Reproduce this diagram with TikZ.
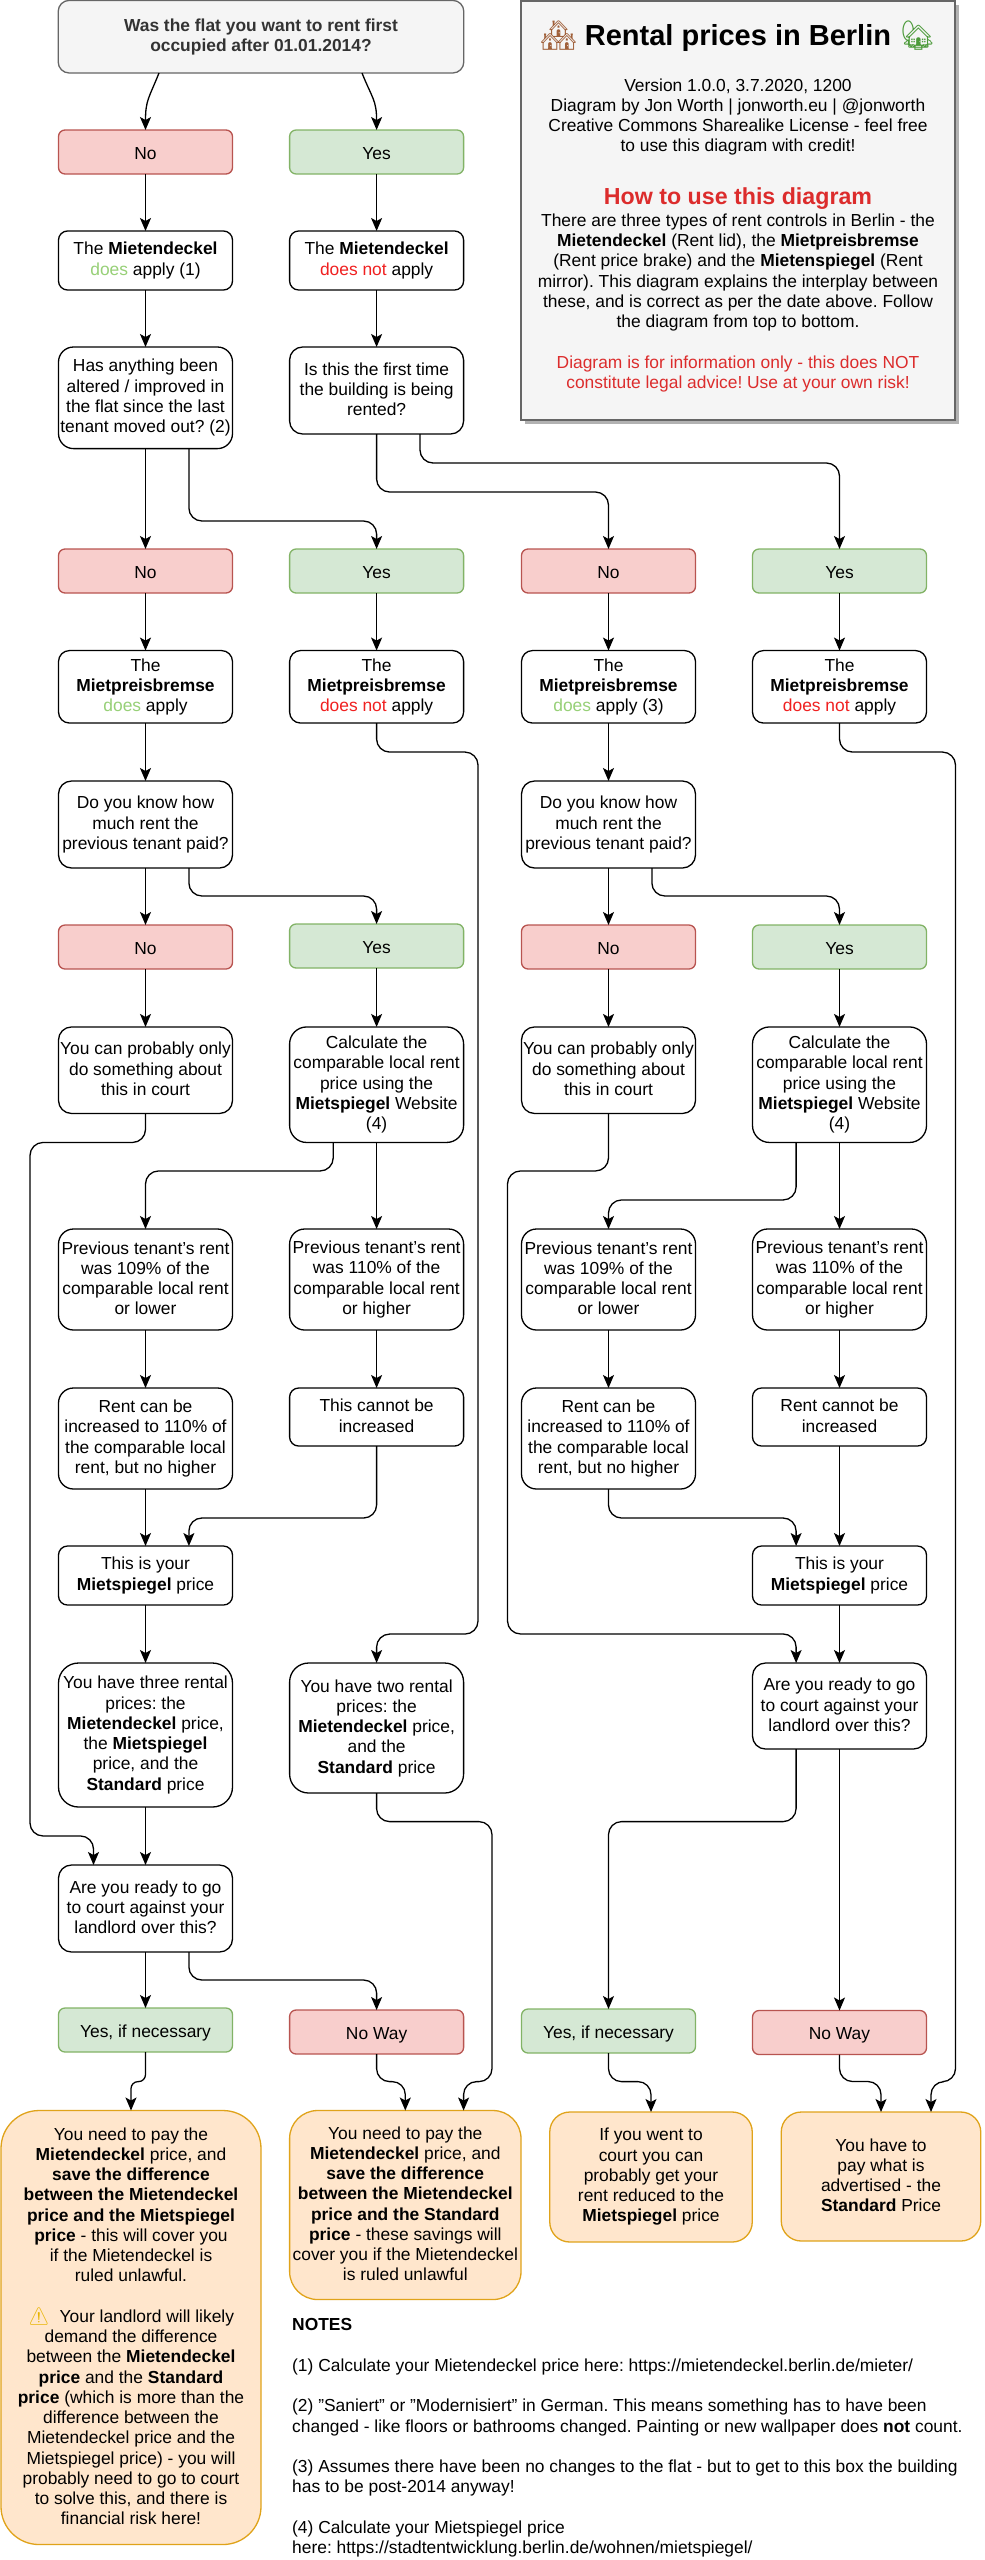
\documentclass[tikz,border=0pt]{standalone}
\usepackage{fontspec}
\setmainfont{Liberation Sans}
\newfontfamily\emojifont{Noto Emoji}
\usepackage{tikz}
\usetikzlibrary{arrows.meta,shadows}
\definecolor{nofill}{HTML}{F8CECC}
\definecolor{noline}{HTML}{B85450}
\definecolor{yesfill}{HTML}{D5E8D4}
\definecolor{yesline}{HTML}{82B366}
\definecolor{payfill}{HTML}{FFE6CC}
\definecolor{payline}{HTML}{E0A31A}
\definecolor{greyfill}{HTML}{F5F5F5}
\definecolor{greyline}{HTML}{666666}
\definecolor{greytext}{HTML}{333333}
\definecolor{doesgreen}{HTML}{97D077}
\definecolor{doesred}{HTML}{F02020}
\definecolor{infored}{HTML}{DC2C2C}
\definecolor{warnyellow}{HTML}{E8B400}
\definecolor{housebrown}{HTML}{A0603A}
\definecolor{treegreen}{HTML}{4C9A3A}
\newcommand{\doesyes}{\textcolor{doesgreen}{does}}
\newcommand{\doesno}{\textcolor{doesred}{does not}}
\newcommand{\boxstrut}{\rule[-2.6pt]{0pt}{20.25pt}}
\AtBeginDocument{\frenchspacing}
\tikzset{
  flowbox/.style={draw=black,fill=white,line width=1.3pt,rounded corners=#1,
    minimum width=174pt,inner sep=0pt,outer sep=0pt,align=center,
    execute at begin node=\boxstrut,execute at end node=\boxstrut},
  flowbox/.default=9pt,
  nobox/.style={flowbox=6.5pt,draw=noline,fill=nofill,minimum height=44pt},
  yesbox/.style={flowbox=6.5pt,draw=yesline,fill=yesfill,minimum height=44pt},
  paybox/.style={flowbox=#1,draw=payline,fill=payfill},
  link/.style={line width=1.3pt,rounded corners=13pt,->},
  every node/.style={font=\fontsize{17.4}{20.25}\selectfont}
}
\begin{document}
\begin{tikzpicture}[x=1pt,y=-1pt,>={Stealth[length=13pt,width=11pt,inset=3pt]}]
\useasboundingbox (0,0) rectangle (985,2560);
\node[flowbox=11pt,draw=greyline,fill=greyfill,text=greytext,minimum width=405.6pt,minimum height=72.6pt,font=\fontsize{17.4}{20.25}\selectfont\bfseries] (top) at (261,36.7) {Was the flat you want to rent first\\occupied after 01.01.2014?};
\node[draw=greyline,fill=greyfill,line width=1.45pt,minimum width=434pt,minimum height=419pt,inner sep=0pt,
  drop shadow={shadow xshift=3.5pt,shadow yshift=-3.5pt,fill=black!30,opacity=1}] (info) at (738,210.5) {};
\node[font=\fontsize{29}{33}\selectfont\bfseries] (infotitle) at (738,36) {{\emojifont\textcolor{housebrown}{🏘}} Rental prices in Berlin {\emojifont\textcolor{treegreen}{🏡}}};
\node[align=center] (infoversion) at (738,117) {Version 1.0.0, 3.7.2020, 1200\\Diagram by Jon Worth | jonworth.eu | @jonworth\\Creative Commons Sharealike License - feel free\\to use this diagram with credit!};
\node[text=infored,font=\fontsize{23.2}{27}\selectfont\bfseries] (infohow) at (738,199) {How to use this diagram};
\node[align=center] (infotext) at (738,272.5) {There are three types of rent controls in Berlin - the\\\textbf{Mietendeckel} (Rent lid), the \textbf{Mietpreisbremse}\\(Rent price brake) and the \textbf{Mietenspiegel} (Rent\\mirror). This diagram explains the interplay between\\these, and is correct as per the date above. Follow\\the diagram from top to bottom.};
\node[align=center,text=infored] (infowarn) at (738,374) {Diagram is for information only - this does NOT\\constitute legal advice! Use at your own risk!};

\node[nobox] (no1) at (145.5,152) {No};
\node[yesbox] (yes1) at (376.6,152) {Yes};
\node[flowbox,minimum height=59pt] (deckel1) at (145.5,260.5) {The \textbf{Mietendeckel}\\\doesyes{} apply (1)};
\node[flowbox,minimum height=59pt] (deckel2) at (376.6,260.5) {The \textbf{Mietendeckel}\\\doesno{} apply};
\node[flowbox=15pt,minimum height=101.6pt] (altered) at (145.5,397.8) {Has anything been\\altered / improved in\\the flat since the last\\tenant moved out? (2)};
\node[flowbox=13pt,minimum height=87pt] (firsttime) at (376.6,390.5) {Is this the first time\\the building is being\\rented?};

\node[nobox] (no2) at (145.5,571) {No};
\node[yesbox] (yes2) at (376.6,571) {Yes};
\node[nobox] (no3) at (608.5,571) {No};
\node[yesbox] (yes3) at (839.5,571) {Yes};
\node[flowbox=11pt,minimum height=72.5pt] (bremse1) at (145.5,686.8) {The\\\textbf{Mietpreisbremse}\\\doesyes{} apply};
\node[flowbox=11pt,minimum height=72.5pt] (bremse2) at (376.6,686.8) {The\\\textbf{Mietpreisbremse}\\\doesno{} apply};
\node[flowbox=11pt,minimum height=72.5pt] (bremse3) at (608.5,686.8) {The\\\textbf{Mietpreisbremse}\\\doesyes{} apply (3)};
\node[flowbox=11pt,minimum height=72.5pt] (bremse4) at (839.5,686.8) {The\\\textbf{Mietpreisbremse}\\\doesno{} apply};
\node[flowbox=13pt,minimum height=87pt] (know1) at (145.5,824.5) {Do you know how\\much rent the\\previous tenant paid?};
\node[flowbox=13pt,minimum height=87pt] (know3) at (608.5,824.5) {Do you know how\\much rent the\\previous tenant paid?};

\node[nobox] (no4) at (145.5,947) {No};
\node[yesbox] (yes4) at (376.6,946) {Yes};
\node[nobox] (no5) at (608.5,947) {No};
\node[yesbox] (yes5) at (839.5,947) {Yes};
\node[flowbox=13pt,minimum height=86.5pt] (court1) at (145.5,1070.2) {You can probably only\\do something about\\this in court};
\node[flowbox=13pt,minimum height=86.5pt] (court3) at (608.5,1070.2) {You can probably only\\do something about\\this in court};
\node[flowbox=17pt,minimum height=115.5pt] (calc2) at (376.6,1084.7) {Calculate the\\comparable local rent\\price using the\\\textbf{Mietspiegel} Website\\(4)};
\node[flowbox=17pt,minimum height=115.5pt] (calc4) at (839.5,1084.7) {Calculate the\\comparable local rent\\price using the\\\textbf{Mietspiegel} Website\\(4)};

\node[flowbox=15pt,minimum height=101pt] (low1) at (145.5,1279.5) {Previous tenant's rent\\was 109\% of the\\comparable local rent\\or lower};
\node[flowbox=15pt,minimum height=101pt] (high2) at (376.6,1279.5) {Previous tenant's rent\\was 110\% of the\\comparable local rent\\or higher};
\node[flowbox=15pt,minimum height=101pt] (low3) at (608.5,1279.5) {Previous tenant's rent\\was 109\% of the\\comparable local rent\\or lower};
\node[flowbox=15pt,minimum height=101pt] (high4) at (839.5,1279.5) {Previous tenant's rent\\was 110\% of the\\comparable local rent\\or higher};
\node[flowbox=15pt,minimum height=101pt] (rise1) at (145.5,1438.5) {Rent can be\\increased to 110\% of\\the comparable local\\rent, but no higher};
\node[flowbox,minimum height=58pt] (cannot2) at (376.6,1417) {This cannot be\\increased};
\node[flowbox=15pt,minimum height=101pt] (rise3) at (608.5,1438.5) {Rent can be\\increased to 110\% of\\the comparable local\\rent, but no higher};
\node[flowbox,minimum height=58pt] (cannot4) at (839.5,1417) {Rent cannot be\\increased};
\node[flowbox,minimum height=59pt] (mirror1) at (145.5,1575.5) {This is your\\\textbf{Mietspiegel} price};
\node[flowbox,minimum height=59pt] (mirror4) at (839.5,1575.5) {This is your\\\textbf{Mietspiegel} price};

\node[flowbox=20pt,minimum height=144pt] (three) at (145.5,1735) {You have three rental\\prices: the\\\textbf{Mietendeckel} price,\\the \textbf{Mietspiegel}\\price, and the\\\textbf{Standard} price};
\node[flowbox=19pt,minimum height=130pt] (two) at (376.6,1728) {You have two rental\\prices: the\\\textbf{Mietendeckel} price,\\and the\\\textbf{Standard} price};
\node[flowbox=13pt,minimum height=86pt] (ready4) at (839.5,1706) {Are you ready to go\\to court against your\\landlord over this?};
\node[flowbox=13pt,minimum height=87pt] (ready1) at (145.5,1908.5) {Are you ready to go\\to court against your\\landlord over this?};

\node[yesbox] (sure1) at (145.5,2030) {Yes, if necessary};
\node[nobox] (never2) at (376.6,2032) {No Way};
\node[yesbox] (sure3) at (608.5,2031) {Yes, if necessary};
\node[nobox] (never4) at (839.5,2032.5) {No Way};

\node[paybox=38pt,minimum width=260pt,minimum height=434pt] (pay1) at (131,2327.5) {You need to pay the\\\textbf{Mietendeckel} price, and\\\textbf{save the difference}\\\textbf{between the Mietendeckel}\\\textbf{price and the Mietspiegel}\\\textbf{price} - this will cover you\\if the Mietendeckel is\\ruled unlawful.\\[\baselineskip]{\emojifont\textcolor{warnyellow}{⚠}}\ \ Your landlord will likely\\demand the difference\\between the \textbf{Mietendeckel}\\\textbf{price} and the \textbf{Standard}\\\textbf{price} (which is more than the\\difference between the\\Mietendeckel price and the\\Mietspiegel price) - you will\\probably need to go to court\\to solve this, and there is\\financial risk here!};
\node[paybox=28pt,minimum width=231.4pt,minimum height=189pt] (pay2) at (405.3,2205) {You need to pay the\\\textbf{Mietendeckel} price, and\\\textbf{save the difference}\\\textbf{between the Mietendeckel}\\\textbf{price and the Standard}\\\textbf{price} - these savings will\\cover you if the Mietendeckel\\is ruled unlawful};
\node[paybox=20pt,minimum width=202.5pt,minimum height=130pt] (pay3) at (651,2177) {If you went to\\court you can\\probably get your\\rent reduced to the\\\textbf{Mietspiegel} price};
\node[paybox=20pt,minimum width=199.5pt,minimum height=129pt] (pay4) at (881,2176.5) {You have to\\pay what is\\advertised - the\\\textbf{Standard} Price};

\node[anchor=north west,align=left,inner sep=0pt] (notes) at (292,2318.5) {\textbf{NOTES}\\[\baselineskip](1) Calculate your Mietendeckel price here: https://mietendeckel.berlin.de/mieter/\\[\baselineskip](2) "Saniert" or "Modernisiert" in German. This means something has to have been\\changed - like floors or bathrooms changed. Painting or new wallpaper does \textbf{not} count.\\[\baselineskip](3) Assumes there have been no changes to the flat - but to get to this box the building\\has to be post-2014 anyway!\\[\baselineskip](4) Calculate your Mietspiegel price\\here: https://stadtentwicklung.berlin.de/wohnen/mietspiegel/};

\draw[link] ([xshift=-102pt]top.south) .. controls +(-10,25) and +(0,-30) .. (no1.north);
\draw[link] ([xshift=101pt]top.south) .. controls +(10,25) and +(0,-30) .. (yes1.north);
\draw[link] (no1) -- (deckel1);
\draw[link] (yes1) -- (deckel2);
\draw[link] (deckel1) -- (altered);
\draw[link] (deckel2) -- (firsttime);
\draw[link] (altered) -- (no2);
\draw[link] ([xshift=43.4pt]altered.south) -- ++(0,72.4) -| (yes2.north);
\draw[link] (firsttime.south) -- ++(0,58) -| (no3.north);
\draw[link] ([xshift=43.4pt]firsttime.south) -- ++(0,29) -| (yes3.north);
\draw[link] (no2) -- (bremse1);
\draw[link] (yes2) -- (bremse2);
\draw[link] (no3) -- (bremse3);
\draw[link] (yes3) -- (bremse4);
\draw[link] (bremse1) -- (know1);
\draw[link] (bremse3) -- (know3);
\draw[link] (know1) -- (no4);
\draw[link] ([xshift=43.4pt]know1.south) -- ++(0,28) -| (yes4.north);
\draw[link] (know3) -- (no5);
\draw[link] ([xshift=43.4pt]know3.south) -- ++(0,28) -| (yes5.north);
\draw[link] (no4) -- (court1);
\draw[link] (yes4) -- (calc2);
\draw[link] (no5) -- (court3);
\draw[link] (yes5) -- (calc4);
\draw[link] ([xshift=-43.4pt]calc2.south) -- ++(0,28.5) -| (low1.north);
\draw[link] (calc2) -- (high2);
\draw[link] ([xshift=-43.4pt]calc4.south) -- ++(0,57.5) -| (low3.north);
\draw[link] (calc4) -- (high4);
\draw[link] (low1) -- (rise1);
\draw[link] (high2) -- (cannot2);
\draw[link] (low3) -- (rise3);
\draw[link] (high4) -- (cannot4);
\draw[link] (rise1) -- (mirror1);
\draw[link] (cannot2.south) -- ++(0,72) -| ([xshift=43.4pt]mirror1.north);
\draw[link] (rise3.south) -- ++(0,29) -| ([xshift=-43.4pt]mirror4.north);
\draw[link] (cannot4) -- (mirror4);
\draw[link] (mirror1) -- (three);
\draw[link] (mirror4) -- (ready4);
\draw[link] (three) -- (ready1);
\draw[link] (bremse2.south) -- ++(0,29) -- ++(101.4,0) -- ++(0,882) -| (two.north);
\draw[link] (court3.south) -- ++(0,57.5) -- ++(-101,0) -- ++(0,463) -| ([xshift=-43.4pt]ready4.north);
\draw[link] (court1.south) -- ++(0,29) -- ++(-115.5,0) -- ++(0,693.5) -| ([xshift=-52pt]ready1.north);
\draw[link] (bremse4.south) -- ++(0,29) -- ++(116,0) -- ++(0,1329.6) -| ([xshift=50pt]pay4.north);
\draw[link] (ready1) -- (sure1);
\draw[link] ([xshift=43.4pt]ready1.south) -- ++(0,28) -| (never2.north);
\draw[link] ([xshift=-43.4pt]ready4.south) -- ++(0,72.6) -| (sure3.north);
\draw[link] (ready4) -- (never4);
\draw[link] (two.south) -- ++(0,28.6) -- ++(115.4,0) -- ++(0,260) -| ([xshift=58.3pt]pay2.north);
\draw[link,rounded corners=7pt] (sure1.south) -- ++(0,29.6) -| (pay1.north);
\draw[link] (never2.south) -- ++(0,27.6) -| (pay2.north);
\draw[link] (sure3.south) -- ++(0,28.6) -| (pay3.north);
\draw[link] (never4.south) -- ++(0,27) -| (pay4.north);
\end{tikzpicture}
\end{document}
